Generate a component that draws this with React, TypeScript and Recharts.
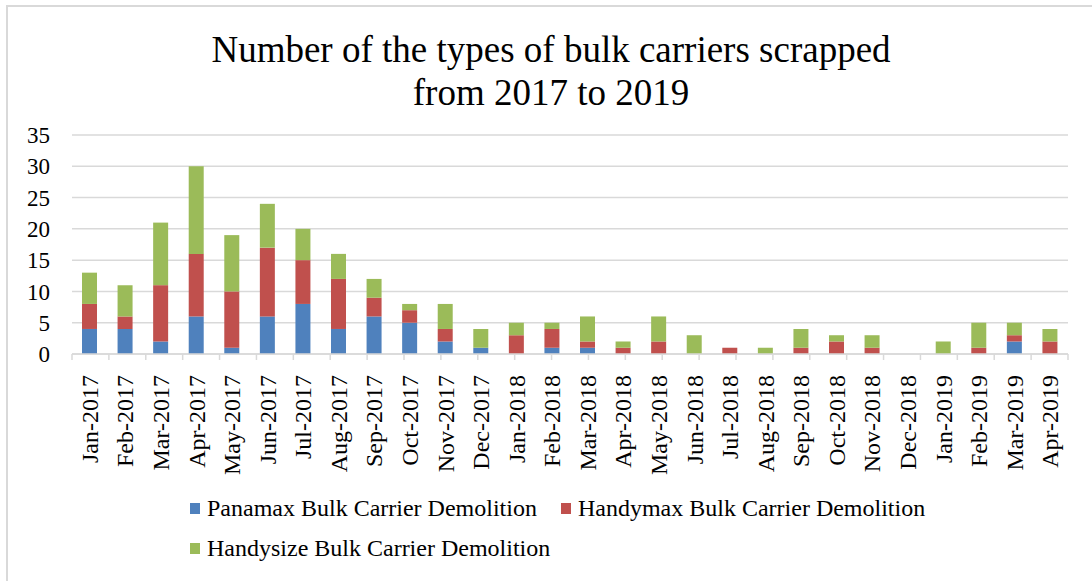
import { BarChart, Bar, XAxis, YAxis, CartesianGrid } from 'recharts';

const months = [
    'Jan-2017', 'Feb-2017', 'Mar-2017', 'Apr-2017', 'May-2017', 'Jun-2017', 'Jul-2017',
    'Aug-2017', 'Sep-2017', 'Oct-2017', 'Nov-2017', 'Dec-2017', 'Jan-2018', 'Feb-2018',
    'Mar-2018', 'Apr-2018', 'May-2018', 'Jun-2018', 'Jul-2018', 'Aug-2018', 'Sep-2018',
    'Oct-2018', 'Nov-2018', 'Dec-2018', 'Jan-2019', 'Feb-2019', 'Mar-2019', 'Apr-2019',
];

const panamax = [4, 4, 2, 6, 1, 6, 8, 4, 6, 5, 2, 1, 0, 1, 1, 0, 0, 0, 0, 0, 0, 0, 0, 0, 0, 0, 2, 0];
const handymax = [4, 2, 9, 10, 9, 11, 7, 8, 3, 2, 2, 0, 3, 3, 1, 1, 2, 0, 1, 0, 1, 2, 1, 0, 0, 1, 1, 2];
const handysize = [5, 5, 10, 14, 9, 7, 5, 4, 3, 1, 4, 3, 2, 1, 4, 1, 4, 3, 0, 1, 3, 1, 2, 0, 2, 4, 2, 2];

const yTicks = [0, 5, 10, 15, 20, 25, 30, 35];
const edgeTicks = months.map((_, i) => i).concat([months.length]);

const series = [
    { key: 'panamax', name: 'Panamax Bulk Carrier Demolition', color: '#4f81bd' },
    { key: 'handymax', name: 'Handymax Bulk Carrier Demolition', color: '#c0504d' },
    { key: 'handysize', name: 'Handysize Bulk Carrier Demolition', color: '#9bbb59' },
];

const data = months.map((month, i) => ({
    month,
    panamax: panamax[i],
    handymax: handymax[i],
    handysize: handysize[i],
}));

const FONT = '"Liberation Serif", "Times New Roman", serif';

const MonthTick = (props: any) => {
    const { x, y, payload } = props;
    return (
        <g transform={`translate(${x},${y})`}>
            <text
                transform="rotate(-90)"
                x={-12}
                y={0}
                textAnchor="end"
                dominantBaseline="central"
                fontFamily={FONT}
                fontSize={24}
                fill="#000"
            >
                {payload.value}
            </text>
        </g>
    );
};

const App = () => (
    <div style={{ position: 'absolute', left: 0, top: 0, width: 1092, height: 581, overflow: 'hidden', background: '#fff' }}>
        <div
            style={{
                position: 'absolute',
                left: 6,
                top: 5,
                width: 1120,
                height: 620,
                border: '2px solid #d9d9d9',
                boxSizing: 'border-box',
            }}
        />
        <div
            style={{
                position: 'absolute',
                left: 0,
                top: 28,
                width: 1102,
                textAlign: 'center',
                fontFamily: FONT,
                fontSize: 37,
                lineHeight: '43px',
                color: '#000',
            }}
        >
            Number of the types of bulk carriers scrapped
            <br />
            from 2017 to 2019
        </div>
        <div style={{ position: 'absolute', left: 0, top: 0 }}>
            <BarChart
                width={1092}
                height={581}
                data={data}
                margin={{ top: 135, right: 24, left: 0, bottom: 111 }}
                barSize={15}
            >
                <CartesianGrid vertical={false} stroke="#d9d9d9" strokeWidth={1.5} />
                <XAxis
                    xAxisId="cat"
                    dataKey="month"
                    interval={0}
                    height={115}
                    tick={<MonthTick />}
                    tickLine={false}
                    axisLine={false}
                />
                <XAxis
                    xAxisId="aedge"
                    type="number"
                    domain={[0, months.length]}
                    ticks={edgeTicks}
                    interval={0}
                    tickFormatter={() => ''}
                    tickSize={6}
                    height={1}
                    stroke="#d9d9d9"
                    strokeWidth={1.5}
                />
                <YAxis
                    width={72}
                    domain={[0, 35]}
                    ticks={yTicks}
                    interval={0}
                    axisLine={false}
                    tickLine={false}
                    tickSize={0}
                    tickMargin={22}
                    tick={{ fontFamily: FONT, fontSize: 23, fill: '#000' }}
                />
                {series.map((s) => (
                    <Bar
                        key={s.key}
                        xAxisId="cat"
                        dataKey={s.key}
                        name={s.name}
                        stackId="a"
                        fill={s.color}
                        isAnimationActive={false}
                    />
                ))}
            </BarChart>
        </div>
        <div
            style={{
                position: 'absolute',
                left: 190,
                top: 494,
                width: 760,
                display: 'flex',
                flexWrap: 'wrap',
                rowGap: 12,
                fontFamily: FONT,
                fontSize: 24,
                lineHeight: '28px',
                color: '#000',
            }}
        >
            {series.map((s) => (
                <div key={s.key} style={{ display: 'flex', alignItems: 'center', marginRight: 24 }}>
                    <span style={{ display: 'inline-block', width: 10, height: 11, background: s.color, marginRight: 7 }} />
                    <span>{s.name}</span>
                </div>
            ))}
        </div>
    </div>
);

export default App;
